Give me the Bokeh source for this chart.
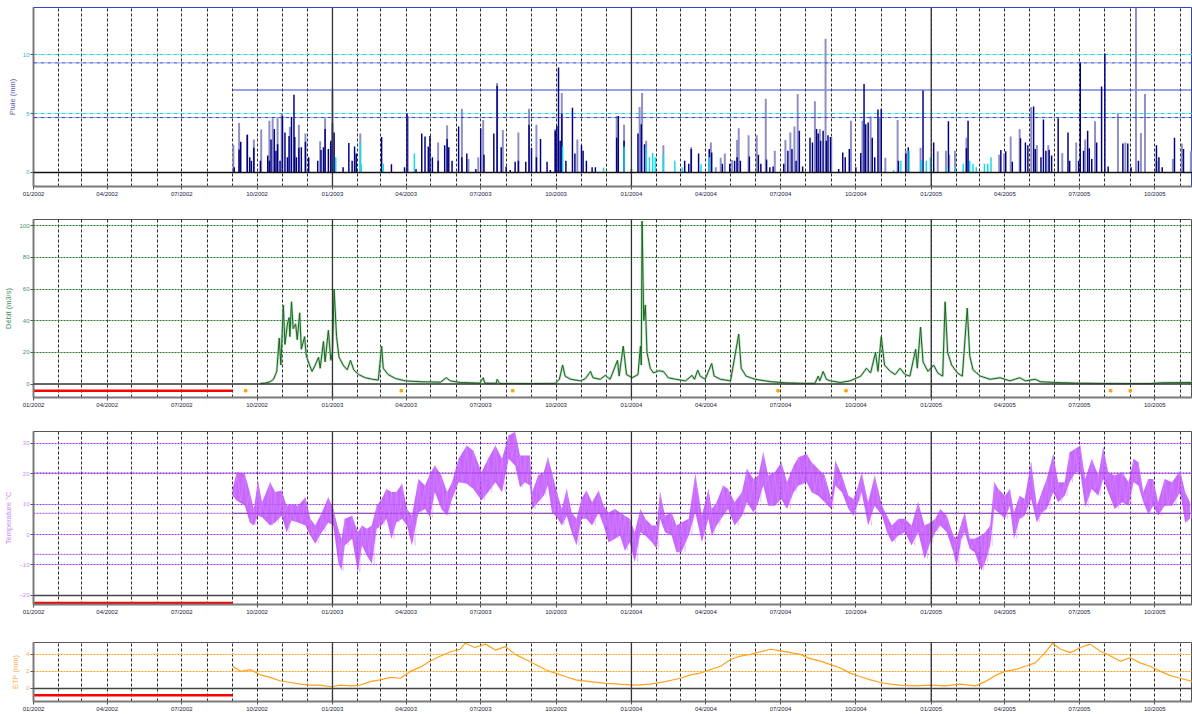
import datetime as dt
from bokeh.plotting import figure
from bokeh.models import Range1d, FixedTicker, Span
from bokeh.layouts import column
from bokeh.embed import file_html
from bokeh.resources import INLINE

# ---------------- data (days counted from 2002-09-01) ----------------
ORIGIN = dt.date(2002, 1, 1)
DATA_START = dt.date(2002, 9, 1)
X_END_DATE = dt.date(2005, 11, 16)

# Pluie (mm) - station 1 (dark navy bars)
rain_day = [2, 8, 10, 18, 21, 23, 26, 34, 43, 45, 47, 51, 53, 55, 58, 61, 64, 67, 69, 72, 75, 76, 78, 81, 84, 89, 93,
            104, 108, 111, 113, 117, 120, 122, 124, 135, 142, 146, 149, 151, 182, 194, 210, 213, 224, 231, 235, 239,
            241, 244, 251, 259, 262, 264, 268, 276, 280, 286, 297, 303, 307, 319, 323, 328, 334, 339, 345, 349, 358,
            362, 365, 371, 376, 384, 388, 394, 396, 398, 400, 402, 407, 415, 418, 426, 428, 432, 439, 443, 469, 471,
            478, 487, 495, 499, 503, 552, 557, 560, 569, 582, 585, 598, 607, 613, 616, 620, 631, 642, 645, 652, 656,
            660, 673, 678, 683, 688, 692, 696, 705, 708, 713, 715, 718, 721, 725, 727, 730, 740, 745, 748, 753, 761,
            767, 771, 773, 776, 781, 784, 788, 792, 813, 822, 825, 843, 856, 874, 896, 898, 938, 944, 952, 962, 968,
            971, 978, 980, 987, 990, 993, 997, 1000, 1008, 1020, 1022, 1033, 1035, 1039, 1044, 1046, 1049, 1055, 1061,
            1065, 1069, 1087, 1093, 1097, 1106, 1128, 1131, 1135, 1150, 1161]
rain_mm = [0.45, 1.95, 2.6, 3.2, 1.3, 1.0, 2.1, 1.0, 1.45, 1.0, 2.8, 3.7, 1.85, 2.4, 1.0, 4.8, 3.4, 1.3, 3.1, 4.7, 6.6,
           3.0, 1.3, 2.1, 2.15, 2.6, 1.3, 1.0, 1.9, 2.15, 3.7, 2.0, 2.7, 4.2, 3.4, 0.45, 2.5, 1.0, 2.2, 1.6, 3.0, 0.7,
           0.45, 5.0, 0.3, 3.3, 3.05, 2.2, 3.1, 1.3, 1.0, 2.3, 2.85, 2.15, 1.0, 3.9, 1.3, 1.6, 0.3, 3.75, 1.5, 3.3,
           7.35, 2.15, 0.5, 0.2, 0.9, 1.0, 0.9, 4.05, 2.1, 1.3, 2.85, 0.9, 0.2, 3.55, 3.95, 8.9, 2.7, 5.0, 1.0, 5.5,
           1.6, 2.3, 1.85, 1.0, 0.45, 0.45, 2.95, 4.8, 2.7, 0.3, 3.3, 4.1, 2.4, 1.0, 0.75, 2.0, 1.6, 2.0, 1.7, 0.75,
           0.75, 1.0, 1.3, 1.0, 1.35, 1.5, 0.75, 1.1, 0.45, 0.5, 0.75, 1.85, 2.0, 1.0, 3.55, 0.5, 2.95, 2.55, 3.7,
           3.3, 2.7, 3.55, 2.7, 3.15, 3.0, 0.3, 1.7, 1.3, 2.0, 0.45, 1.65, 7.5, 4.1, 4.25, 2.95, 1.3, 5.35, 5.4, 1.0,
           1.6, 2.15, 6.95, 2.55, 4.35, 2.05, 4.4, 1.9, 1.8, 0.9, 2.9, 2.55, 2.3, 5.6, 2.0, 1.3, 4.5, 1.85, 1.9, 1.45,
           4.6, 3.4, 1.0, 1.0, 9.35, 1.85, 3.55, 2.05, 1.15, 2.55, 7.3, 10.1, 0.5, 2.45, 2.45, 0.45, 1.0, 2.3, 1.3,
           0.45, 2.95, 2.0]

# Pluie (mm) - station 2 (light bars)
rain2_day = [1, 8, 18, 26, 35, 45, 49, 55, 60, 70, 81, 89, 107, 113, 120, 122, 156, 214, 251, 262, 280, 288, 300, 306,
             323, 330, 349, 362, 371, 394, 402, 421, 469, 478, 497, 500, 505, 526, 560, 584, 590, 596, 601, 610, 616,
             618, 630, 640, 651, 662, 675, 681, 686, 690, 711, 717, 724, 731, 755, 769, 779, 790, 797, 812, 822, 840,
             861, 871, 875, 882, 896, 936, 942, 950, 961, 975, 982, 996, 1013, 1030, 1041, 1053, 1081, 1090, 1103,
             1109, 1114, 1128, 1148, 1159, 1170]
rain2_mm = [2.35, 4.2, 3.2, 2.8, 3.65, 4.4, 4.6, 4.6, 5.0, 3.85, 4.05, 3.3, 2.65, 4.6, 2.4, 7.1, 3.3, 4.8, 2.55, 4.0,
            5.4, 1.15, 1.3, 4.45, 7.6, 3.6, 3.4, 5.4, 4.05, 3.7, 6.75, 2.8, 4.8, 4.05, 5.55, 6.75, 2.7, 2.3, 2.15,
            2.55, 0.45, 1.25, 1.6, 1.05, 2.75, 3.75, 3.15, 3.15, 6.25, 1.85, 2.75, 3.4, 3.9, 6.65, 6.05, 3.7, 11.35,
            3.0, 4.4, 4.4, 4.75, 4.7, 1.25, 4.45, 1.85, 2.1, 1.8, 1.85, 1.5, 1.85, 2.95, 1.5, 1.6, 3.05, 3.7, 5.55,
            2.3, 2.3, 1.65, 2.55, 2.8, 4.35, 5.0, 2.55, 14.5, 3.35, 6.65, 1.0, 1.15, 2.45, 1.8]

# Neige (mm) - cyan bars
snow_day = [126, 156, 157, 184, 222, 403, 453, 478, 505, 509, 513, 516, 526, 540, 549, 572, 582, 807, 816, 826, 841,
            847, 852, 871, 882, 892, 900, 904, 908, 918, 922, 926]
snow_mm = [1.3, 2.6, 0.75, 0.75, 1.6, 2.2, 0.4, 2.2, 2.15, 1.3, 1.65, 1.3, 1.5, 1.0, 0.45, 0.7, 1.3, 0.2, 1.0, 1.85,
           1.05, 1.0, 1.3, 0.45, 0.45, 0.75, 1.0, 0.75, 0.45, 0.75, 0.75, 1.3]

pluie_mean = 7.0
pluie_band = [4.66, 9.3]
pluie_max = 14.0

# Debit (m3/s)
q_day = [34, 40, 46, 50, 54, 57, 59, 62, 64, 67, 69, 70, 72, 74, 77, 79, 82, 84, 88, 90, 94, 97, 101, 105, 107, 111,
         113, 117, 120, 122, 124, 127, 130, 135, 140, 144, 148, 154, 162, 171, 178, 182, 184, 190, 199, 211, 229, 254,
         261, 266, 278, 302, 306, 308, 322, 323, 326, 364, 394, 399, 403, 406, 413, 425, 431, 437, 440, 449, 455, 461,
         470, 472, 477, 481, 488, 495, 498, 499, 500, 502, 504, 506, 510, 514, 520, 526, 532, 541, 553, 561, 564, 568,
         571, 577, 585, 588, 596, 608, 618, 621, 627, 638, 657, 675, 693, 711, 715, 717, 721, 725, 730, 742, 754, 767,
         774, 779, 785, 788, 792, 796, 803, 809, 815, 821, 827, 834, 836, 840, 843, 849, 856, 861, 867, 870, 873, 878,
         885, 891, 897, 900, 904, 913, 925, 937, 949, 961, 968, 980, 986, 1004, 1029, 1059, 1120, 1133, 1172]
q_val = [0.4, 0.6, 1.5, 3, 8, 29, 12, 50, 25, 38, 42, 30, 52, 35, 38, 28, 45, 22, 30, 18, 12, 8, 12, 17, 10, 27, 14,
         34, 15, 20, 60, 30, 17, 12, 9, 15, 9, 6, 4, 3, 2.5, 24, 10, 6, 3.5, 2, 1.5, 1.2, 4, 2, 1, 0.6, 4, 0.6, 0.5, 3,
         0.4, 0.3, 0.4, 3, 12, 5, 3, 2, 3.5, 8, 4, 3, 5.5, 3, 15, 5, 24, 6, 4, 6, 24, 12, 103, 40, 50, 20, 10, 7, 8.4,
         8, 4, 3, 2, 5.5, 3, 8.8, 5, 3, 13, 5, 3, 2, 31.6, 10, 5, 3, 1.5, 0.8, 0.5, 0.4, 5, 2, 8, 3, 2, 1, 2, 5, 10, 7,
         20, 8, 30, 12, 8, 6, 10, 6, 5, 22, 10, 36, 14, 8, 12, 7, 5, 52, 20, 12, 7, 5, 48, 18, 9, 5, 3, 4, 2, 4, 2, 3,
         1.5, 1, 0.6, 0.4, 0.3, 0.8, 1]
q_flag_day = [16, 206, 342, 666, 749, 1072, 1096]
q_flag_val = [-4.2] * 7

# Temperature (deg C): upper / lower envelope of daily values
t_day = [0, 5, 15, 21, 26, 31, 36, 46, 52, 60, 66, 72, 80, 89, 95, 101, 109, 117, 123, 129, 133, 137, 146, 153, 158,
         164, 170, 176, 182, 188, 194, 200, 207, 213, 219, 227, 235, 241, 247, 255, 262, 268, 276, 286, 294, 304, 312,
         321, 329, 337, 345, 351, 357, 363, 366, 373, 380, 385, 390, 396, 402, 408, 414, 420, 426, 432, 439, 447, 453,
         459, 467, 473, 479, 485, 491, 498, 504, 512, 518, 522, 528, 536, 542, 548, 557, 565, 573, 581, 585, 591, 599,
         605, 613, 622, 628, 636, 642, 648, 654, 662, 670, 677, 685, 691, 701, 707, 715, 723, 731, 736, 744, 752, 758,
         764, 768, 776, 784, 793, 799, 805, 813, 821, 829, 837, 845, 852, 858, 864, 872, 880, 884, 890, 894, 900, 906,
         914, 919, 925, 930, 935, 943, 949, 954, 961, 967, 975, 982, 988, 994, 1002, 1008, 1016, 1022, 1029, 1035,
         1041, 1049, 1057, 1063, 1069, 1077, 1086, 1094, 1100, 1106, 1112, 1118, 1124, 1130, 1138, 1147, 1157, 1163,
         1169]
t_hi = [15, 20.5, 20, 14, 8.4, 17.8, 10.6, 17.2, 14, 14.5, 9.5, 10, 9.5, 12.3, 5.2, 3, 7.3, 12.3, 8.4, 1.9, -1.4, 5.2,
        6.2, 0.8, 3, 1.9, 3, 9.5, 11.7, 15, 14, 14, 16.7, 8.4, 6.2, 18.3, 16.1, 20, 22.7, 19.4, 14, 17.2, 24.9, 29.3,
        27.6, 20.5, 24.9, 29.3, 24.9, 32.6, 33.7, 26, 26, 26, 14, 19.4, 20.5, 25.4, 20.5, 14, 8.4, 15, 7.3, 5.2, 11.7,
        14.5, 10.6, 14.5, 9.5, 7.3, 8.4, 7.3, 6.2, 5.2, 0.8, 8.4, 5.2, 3, 3, 14, 6.2, 7.3, 3, 4, 5.2, 20, 6.2, 15, 8.4,
        10.6, 16.1, 15, 10.6, 14, 21.6, 18.3, 19.4, 27.1, 19.4, 20.5, 23.8, 17.2, 22.7, 25.4, 26.5, 23.8, 21.6, 19.4,
        11.7, 24.3, 19.4, 12.8, 11.7, 16.1, 20.5, 10.6, 19.4, 9.5, 6.2, 3, 5.2, 5.2, 3, 10.6, 3, 4, 5.2, 8.4, 6.2,
        -0.3, -1.4, 4, 7.3, -1.4, -1.4, -0.3, 0.8, 3, 17.2, 15, 12.8, 15, 7.3, 12.8, 11.7, 23.8, 9.5, 14, 18.3, 26.5,
        17.2, 17.2, 27.1, 28.2, 29.3, 18.3, 24.9, 19.4, 28.7, 20.5, 19.4, 20.5, 17.2, 24.9, 23.8, 14, 18.3, 18.3,
        10.6, 18.3, 17.2, 21, 14, 10.6]
t_lo = [12.8, 11.2, 9.5, 4, 3, 6.2, 5.7, 3, 4, 6.2, 0.8, 4.6, 4, 3, -0.3, -3, 0.8, 4, 3, -9.1, -11.8, -3.6, -1.4,
        -12.4, -3.6, -6.9, -9.6, 1.9, 3, 5.2, -1.4, 4, 5.2, 3, -3.6, 7.3, 8.4, 5.7, 13.9, 8.4, 6.2, 11.7, 17.2, 16.7,
        15, 11.2, 13.9, 17.2, 13.9, 24.9, 22.7, 15.6, 17.2, 16.1, 8.4, 10.6, 12.8, 16.1, 7.3, 5.7, 3, 6.2, 0.8, -3.6,
        5.2, 5.2, 3, 7.3, 3, -2.5, -1.4, -0.3, -5.3, -2.5, -9.1, 0.8, -0.3, -2.5, -4.7, 5.2, 0.8, -0.3, -5.8, -5.8,
        -0.3, 7.3, -2.5, 5.2, -0.3, 3, 6.2, 8.4, 3, 6.2, 10.6, 7.3, 10.6, 16.1, 9.5, 9.5, 11.7, 8.4, 13.9, 16.1, 17.2,
        13.9, 12.8, 10.6, 8.4, 16.1, 13.9, 8.4, 6.2, 10.6, 13.9, 3, 9.5, 6.2, 0.8, -2.5, -0.3, 0.8, -3.6, 0.8, -8,
        -2.5, 0.8, 3, 0.8, -5.8, -10.7, -1.4, 0.8, -4.7, -5.8, -11.8, -9.1, -3.6, 8.4, 7.3, 5.2, 9.5, -1.4, 5.2, 6.2,
        11.7, 4, 7.3, 8.4, 13.9, 10.6, 12.8, 17.2, 20.5, 20.5, 9, 15, 12.8, 18.3, 13.9, 8.4, 10.6, 9.5, 17.2, 16.1,
        10.6, 6.8, 9.5, 6.2, 9.5, 9.5, 13.9, 4, 5.2]
temp_mean = 7.0
temp_band = [-6.5, 20.3]

# ETP (mm)
etp_day = [0, 10, 22, 34, 46, 58, 71, 83, 95, 107, 120, 132, 144, 156, 168, 180, 193, 205, 217, 229, 241, 254, 266,
           278, 284, 296, 309, 321, 333, 345, 358, 370, 382, 394, 406, 419, 437, 455, 473, 492, 510, 528, 547, 559,
           571, 583, 596, 608, 620, 632, 644, 657, 669, 681, 693, 705, 718, 730, 742, 754, 766, 779, 791, 803, 815,
           834, 852, 870, 888, 907, 919, 931, 943, 955, 968, 980, 992, 1001, 1011, 1023, 1035, 1047, 1059, 1072, 1084,
           1096, 1108, 1120, 1133, 1145, 1157, 1172]
etp_val = [2.6, 2.0, 2.2, 1.6, 1.3, 0.9, 0.7, 0.5, 0.4, 0.4, 0.2, 0.4, 0.3, 0.4, 0.8, 1.0, 1.3, 1.2, 2.0, 2.5, 3.2,
           3.8, 4.3, 4.6, 5.3, 4.8, 5.2, 4.5, 4.9, 4.0, 3.4, 2.8, 2.2, 1.8, 1.4, 1.0, 0.8, 0.6, 0.5, 0.4, 0.5, 0.8,
           1.2, 1.6, 1.8, 2.2, 2.6, 3.4, 3.8, 4.0, 4.3, 4.6, 4.4, 4.2, 4.0, 3.5, 3.2, 2.8, 2.4, 1.8, 1.4, 1.0, 0.7,
           0.5, 0.4, 0.3, 0.4, 0.3, 0.5, 0.3, 0.8, 1.5, 2.0, 2.2, 2.6, 3.0, 4.2, 5.3, 4.6, 4.2, 4.8, 5.2, 4.4, 3.8,
           3.2, 3.6, 3.0, 2.6, 2.0, 1.5, 1.2, 0.8]

missing_level = {"debit": -4.2, "temp": -22.5, "etp": -0.8}

# ---------------- helpers ----------------
OFF = (DATA_START - ORIGIN).days
X_END = (X_END_DATE - ORIGIN).days


def xs(days):
    return [OFF + d for d in days]


quarter_pos, quarter_lab, month_pos, jan_pos = [], [], [], []
for yr in range(2002, 2006):
    for m in range(1, 13):
        d = dt.date(yr, m, 1)
        pos = (d - ORIGIN).days
        if pos > X_END:
            continue
        if pos > 0:
            month_pos.append(pos)
        if m == 1 and pos > 0:
            jan_pos.append(pos)
        if m in (1, 4, 7, 10):
            quarter_pos.append(pos)
            quarter_lab.append(d.strftime("%m/%Y"))

FONT = "Liberation Sans"


def make_fig(height, top, bottom, yr, yticks, grid_ticks, grid_color, grid_dash, label, label_color, tick_color):
    p = figure(width=1192, height=height, x_range=Range1d(0, X_END), y_range=Range1d(*yr),
               output_backend="svg", toolbar_location=None, title=None,
               min_border_left=33, min_border_right=0, min_border_top=top, min_border_bottom=bottom)
    p.background_fill_color = "white"
    p.border_fill_color = "white"
    p.outline_line_color = "#555555"
    p.outline_line_width = 1
    # x axis
    xa = p.xaxis[0]
    xa.ticker = FixedTicker(ticks=quarter_pos)
    xa.major_label_overrides = {q: l for q, l in zip(quarter_pos, quarter_lab)}
    xa.major_label_text_font = FONT
    xa.major_label_text_font_size = "6px"
    xa.major_label_text_color = "#1a1a40"
    xa.major_label_standoff = 1
    xa.major_tick_out = 3
    xa.major_tick_in = 0
    xa.major_tick_line_color = "#555555"
    xa.minor_tick_line_color = None
    xa.axis_line_color = "#7a7a7a"
    xa.axis_line_width = 2
    # y axis
    ya = p.yaxis[0]
    ya.ticker = FixedTicker(ticks=yticks)
    ya.major_label_text_font = FONT
    ya.major_label_text_font_size = "6px"
    ya.major_label_text_color = tick_color
    ya.major_label_standoff = 1
    ya.major_tick_out = 3
    ya.major_tick_in = 0
    ya.major_tick_line_color = "#555555"
    ya.minor_tick_line_color = None
    ya.axis_line_color = "#7a7a7a"
    ya.axis_line_width = 2
    ya.axis_label = label
    ya.axis_label_text_font = FONT
    ya.axis_label_text_font_size = "7.5px"
    ya.axis_label_text_font_style = "normal"
    ya.axis_label_text_color = label_color
    ya.axis_label_standoff = 3
    # grids
    p.xgrid.ticker = FixedTicker(ticks=month_pos)
    p.xgrid.grid_line_color = "#2a2a2a"
    p.xgrid.grid_line_dash = "3 2"
    p.xgrid.grid_line_width = 1
    p.ygrid.ticker = FixedTicker(ticks=grid_ticks)
    p.ygrid.grid_line_color = grid_color
    p.ygrid.grid_line_dash = grid_dash
    p.ygrid.grid_line_width = 1
    for j in jan_pos:
        p.add_layout(Span(location=j, dimension="height", line_color="#333333", line_width=1.3))
    return p


# ---------------- panel 1 : Pluie ----------------
p1 = make_fig(212, 7, 26, (-1.19, pluie_max), [0, 5, 10], [5, 10], "#22d4dc", "4 1 1 1",
              "Pluie (mm)", "#5c5caa", "#2fb5c5")
p1.outline_line_color = "#3344cc"
for lv in pluie_band:
    p1.add_layout(Span(location=lv, dimension="width", line_color="#2a3ad8", line_dash="4 1 1 1", line_width=1))
p1.segment(x0=[OFF], y0=[pluie_mean], x1=[X_END], y1=[pluie_mean], line_color="#3344cc", line_width=1.2)
p1.vbar(x=xs(rain2_day), top=rain2_mm, bottom=0, width=2.4, color="#8e8ec8", line_color=None)
p1.vbar(x=xs(rain_day), top=rain_mm, bottom=0, width=1.8, color="#000080", line_color=None)
p1.vbar(x=xs(snow_day), top=snow_mm, bottom=0, width=1.8, color="#12dbe8", line_color=None)
p1.add_layout(Span(location=0, dimension="width", line_color="#111111", line_width=1.5))

# ---------------- panel 2 : Debit ----------------
p2 = make_fig(211, 7, 26, (-8.5, 104.0), [0, 20, 40, 60, 80, 100], [20, 40, 60, 80, 100], "#1f7a1f", "2 1",
              "Débit (m3/s)", "#3f8f5f", "#3f8f5f")
p2.add_layout(Span(location=0, dimension="width", line_color="#333333", line_width=1.5))
p2.line(xs(q_day), q_val, line_color="#a9c8a9", line_width=2.5, line_alpha=0.7)
p2.line(xs(q_day), q_val, line_color="#0f6a1c", line_width=1)
p2.segment(x0=[0], y0=[missing_level["debit"]], x1=[OFF], y1=[missing_level["debit"]], line_color="#ff0000",
           line_width=2.5)
p2.scatter(xs(q_flag_day), q_flag_val, size=2.5, color="#ffa500", marker="square")

# ---------------- panel 3 : Temperature ----------------
p3 = make_fig(207, 8, 26, (-23.0, 33.9), [-20, -10, 0, 10, 20, 30], [-10, 0, 10, 20, 30], "#a030f0", "2 1",
              "Temperature °C", "#c58cf5", "#c58cf5")
for lv in temp_band + [temp_mean]:
    p3.add_layout(Span(location=lv, dimension="width", line_color="#a040e0", line_dash="2 1", line_width=1))
p3.segment(x0=[OFF], y0=[temp_mean], x1=[X_END], y1=[temp_mean], line_color="#8a6a9a", line_width=1.2)
p3.add_layout(Span(location=-20, dimension="width", line_color="#444444", line_width=1.5))
zx, zy = [], []
for i, d in enumerate(t_day):
    zx.append(OFF + d)
    zy.append(t_hi[i])
    nxt = t_day[i + 1] if i + 1 < len(t_day) else d + 4
    zx.append(OFF + (d + nxt) / 2)
    zy.append(t_lo[i])
p3.varea(x=xs(t_day), y1=t_lo, y2=t_hi, fill_color="#c04dff", fill_alpha=0.85)
p3.line(zx, zy, line_color="#d89cff", line_width=0.8, line_alpha=0.5)

p3.segment(x0=[0], y0=[missing_level["temp"]], x1=[OFF], y1=[missing_level["temp"]], line_color="#ff0000",
           line_width=2.5)

# ---------------- panel 4 : ETP ----------------
p4 = make_fig(84, 12, 12, (-1.53, 5.39), [0, 2, 4], [2, 4], "#ffa020", "2 1",
              "ETP (mm)", "#ffb060", "#ffa040")
p4.add_layout(Span(location=0, dimension="width", line_color="#444444", line_width=1.5))
p4.line(xs(etp_day), etp_val, line_color="#ffa21c", line_width=1.2)
p4.segment(x0=[0], y0=[missing_level["etp"]], x1=[OFF], y1=[missing_level["etp"]], line_color="#ff0000",
           line_width=2.5)

layout = column(p1, p2, p3, p4, spacing=0)
open("out.html", "w").write(file_html(layout, INLINE))
